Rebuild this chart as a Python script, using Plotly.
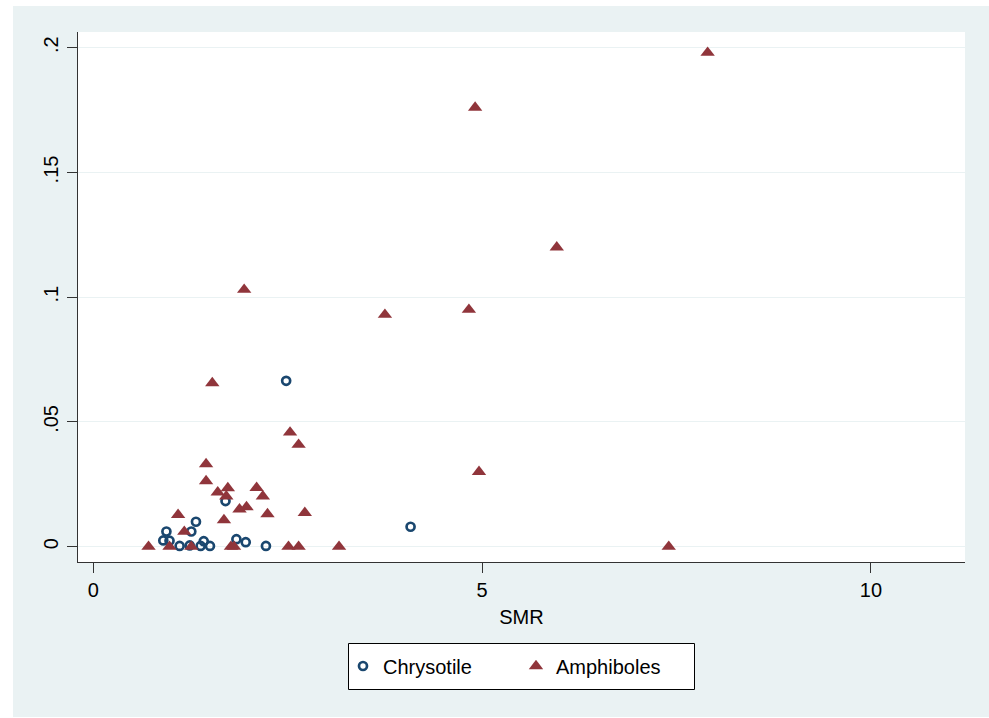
import plotly.graph_objects as go

# Chrysotile (hollow circles)
chry_smr = [0.94, 0.90, 0.98, 1.11, 1.26, 1.24, 1.32, 1.38, 1.42, 1.50, 1.70, 1.84, 1.96, 2.22, 2.48, 4.08]
chry_val = [0.0061, 0.0025, 0.0024, 0.0003, 0.0061, 0.0005, 0.0100, 0.0003, 0.0022, 0.0003, 0.0183, 0.0030, 0.0018, 0.0003, 0.0665, 0.0080]

# Amphiboles (filled triangles)
amph_smr = [7.90, 4.91, 5.96, 1.94, 3.75, 4.83, 1.53, 2.53, 2.64, 4.96, 1.45, 1.45, 1.60, 1.73, 1.71,
            2.10, 2.18, 1.88, 1.97, 2.24, 2.72, 1.09, 1.68, 1.17, 0.71, 0.98, 1.26, 1.77, 1.81,
            2.51, 2.64, 3.16, 7.40]
amph_val = [0.198, 0.176, 0.120, 0.103, 0.093, 0.095, 0.0656, 0.0458, 0.0409, 0.030, 0.0331, 0.0263, 0.0218, 0.0235, 0.0202,
            0.0236, 0.0202, 0.0150, 0.0159, 0.0131, 0.0136, 0.0128, 0.0107, 0.0060, 0.0, 0.0, 0.0, 0.0, 0.0,
            0.0, 0.0, 0.0, 0.0]

x_ticks = [0, 5, 10]
x_ticklabels = ["0", "5", "10"]
y_ticks = [0, 0.05, 0.1, 0.15, 0.2]
y_ticklabels = ["0", ".05", ".1", ".15", ".2"]

NAVY = "#1a476f"
MAROON = "#90353b"
BG = "#eaf2f3"
FONT = "Liberation Sans, Arial, sans-serif"

fig = go.Figure()
fig.add_trace(go.Scatter(
    x=chry_smr, y=chry_val, mode="markers", name="Chrysotile",
    marker=dict(symbol="circle-open", size=8, color=NAVY, line=dict(width=2.7, color=NAVY)),
))
fig.add_trace(go.Scatter(
    x=amph_smr, y=amph_val, mode="markers", name="Amphiboles",
    marker=dict(symbol="triangle-up", size=12.5, color=MAROON, line=dict(width=0)),
))

W, H = 989, 718
# plot area in screen pixels
SL, SR, ST, SB = 78, 965, 32, 562
L, T = SL, ST
R = W - SR
B = H - SB
pw, ph = W - L - R, H - T - B

def px_x(p):  # screen pixel -> paper x
    return (p - L) / pw

def px_y(p):  # screen pixel -> paper y
    return (H - B - p) / ph

fig.update_layout(
    width=W, height=H,
    margin=dict(l=L, r=R, t=T, b=B, pad=0),
    paper_bgcolor=BG,
    plot_bgcolor="white",
    font=dict(family=FONT, size=20, color="black"),
    showlegend=True,
    legend=dict(
        orientation="h", x=px_x(343), xanchor="left", y=px_y(666), yanchor="middle",
        bgcolor="rgba(0,0,0,0)", borderwidth=0,
        font=dict(family=FONT, size=20, color="black"),
        entrywidth=128,
    ),
    shapes=[
        # white outer border strips (left, top, bottom)
        dict(type="rect", xref="paper", yref="paper", layer="below",
             x0=px_x(-5), x1=px_x(13), y0=px_y(725), y1=px_y(-5),
             fillcolor="white", line=dict(width=0)),
        dict(type="rect", xref="paper", yref="paper", layer="below",
             x0=px_x(-5), x1=px_x(995), y0=px_y(6), y1=px_y(-5),
             fillcolor="white", line=dict(width=0)),
        dict(type="rect", xref="paper", yref="paper", layer="below",
             x0=px_x(-5), x1=px_x(995), y0=px_y(725), y1=px_y(717),
             fillcolor="white", line=dict(width=0)),
        # legend box
        dict(type="rect", xref="paper", yref="paper", layer="below",
             x0=px_x(348.5), x1=px_x(694.5), y0=px_y(689.5), y1=px_y(643.5),
             fillcolor="white", line=dict(width=1, color="black")),
    ],
)

fig.update_xaxes(
    range=[-0.197, 11.21],
    tickvals=x_ticks, ticktext=x_ticklabels,
    showgrid=False, zeroline=False,
    showline=True, linecolor="#333333", linewidth=1,
    ticks="outside", ticklen=10, tickcolor="#333333", tickwidth=1,
    tickfont=dict(size=20, color="black"),
    title=dict(text="SMR", standoff=9, font=dict(size=20, color="black")),
)
fig.update_yaxes(
    range=[-0.00613, 0.2063],
    tickvals=y_ticks, ticktext=y_ticklabels,
    tickangle=-90,
    ticklabelstandoff=1,
    showgrid=True, gridcolor=BG, gridwidth=1,
    zeroline=False,
    showline=True, linecolor="#333333", linewidth=1,
    ticks="outside", ticklen=10, tickcolor="#333333", tickwidth=1,
    tickfont=dict(size=20, color="black"),
)

fig.write_html(
    "out.html",
    config={"displayModeBar": False},
    post_script="document.body.style.margin='0';document.body.style.overflow='hidden';",
)
